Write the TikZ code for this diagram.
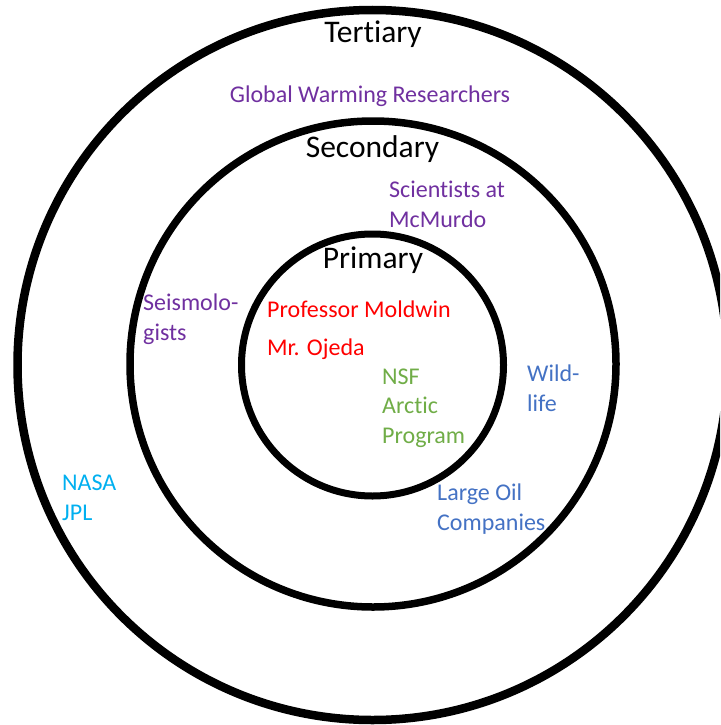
\documentclass[tikz,border=0pt]{standalone}
\usepackage{fontspec}
\setmainfont{Carlito}[Ligatures=NoCommon]
\definecolor{lblpurple}{HTML}{7030A0}
\definecolor{lblred}{HTML}{FF0000}
\definecolor{lblgreen}{HTML}{70AD47}
\definecolor{lblblue}{HTML}{4472C4}
\definecolor{lblcyan}{HTML}{00B0F0}
\tikzset{
  ring/.style={draw=black},
  tier/.style={anchor=base, inner sep=0pt, font=\fontsize{31.5}{36}\selectfont},
  item/.style={anchor=base west, inner sep=0pt, align=left, font=\fontsize{24}{29.3}\selectfont},
}
\begin{document}
\begin{tikzpicture}[x=1pt,y=-1pt]
\useasboundingbox (0,0) rectangle (720,725);
\clip (0,0) rectangle (720,725);
\fill[white] (0,0) rectangle (720,725);
\draw[ring, line width=8.5pt] (372.5,365) circle (355);
\draw[ring, line width=7.5pt] (373,364) circle (243);
\draw[ring, line width=7pt] (372.5,365) circle (131);
\node[tier] (tert) at (373,43) {Tertiary};
\node[tier] (sec) at (372.5,157) {Secondary};
\node[tier] (prim) at (373,268) {Primary};
\node[item, anchor=base, text=lblpurple] (gwr) at (370,102) {Global Warming Researchers};
\node[item, text=lblpurple] (sci) at (389,227) {Scientists at\\McMurdo};
\node[item, text=lblpurple] (seis) at (143,340) {Seismolo-\\gists};
\node[item, text=lblred] (mold) at (267,317) {Professor Moldwin};
\node[item, text=lblred] (ojeda) at (267,355) {Mr. Ojeda};
\node[item, text=lblgreen] (nsf) at (382,443) {NSF\\Arctic\\Program};
\node[item, text=lblblue] (wild) at (527,411) {Wild-\\life};
\node[item, text=lblblue] (oil) at (437,530) {Large Oil\\Companies};
\node[item, text=lblcyan] (nasa) at (62,520) {NASA\\JPL};
\end{tikzpicture}
\end{document}
